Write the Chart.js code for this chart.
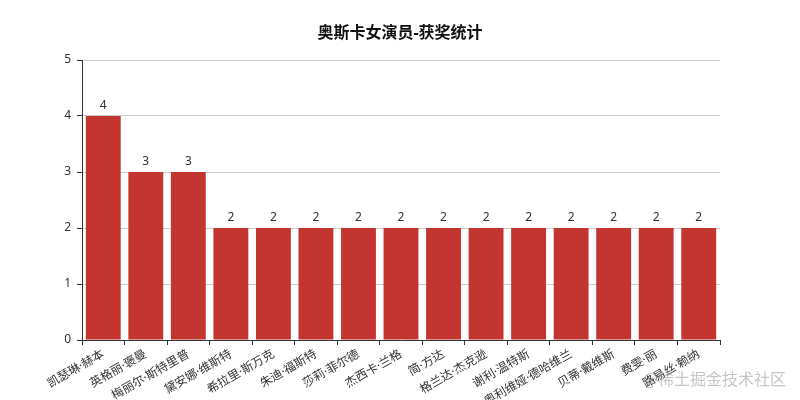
<!DOCTYPE html>
<html>
<head>
<meta charset="utf-8">
<script src="https://cdn.jsdelivr.net/npm/chart.js@4.4.1/dist/chart.umd.min.js"></script>
<style>
  html, body { margin: 0; padding: 0; background: #fff; }
  #wrap { position: relative; width: 800px; height: 400px; }
  #mark { position: absolute; right: 14px; bottom: 10px; font: 16px "Noto Sans CJK SC", sans-serif; color: rgba(160,160,160,0.6); }
</style>
</head>
<body>
<div id="wrap">
  <canvas id="chart" width="800" height="400"></canvas>
  <div id="mark">@稀土掘金技术社区</div>
</div>
<script>
// actresses and number of Oscar wins
const actresses = [
  "凯瑟琳·赫本", "英格丽·褒曼", "梅丽尔·斯特里普", "黛安娜·维斯特", "希拉里·斯万克",
  "朱迪·福斯特", "莎莉·菲尔德", "杰西卡·兰格", "简·方达", "格兰达·杰克逊",
  "谢利·温特斯", "奥利维娅·德哈维兰", "贝蒂·戴维斯", "费雯·丽", "路易丝·赖纳"
];
const awards = [4, 3, 3, 2, 2, 2, 2, 2, 2, 2, 2, 2, 2, 2, 2];
const yTicks = [0, 1, 2, 3, 4, 5];
const titleText = "奥斯卡女演员-获奖统计";

// Noto Sans first so the middle dot stays narrow, CJK falls back
const font = "'Noto Sans', 'Noto Sans CJK SC', sans-serif";

// value above each bar + title centred on the whole canvas
const extras = {
  id: "extras",
  afterDatasetsDraw(chart) {
    const ctx = chart.ctx;
    const meta = chart.getDatasetMeta(0);
    ctx.save();
    ctx.fillStyle = "#333";
    ctx.font = "12px " + font;
    ctx.textAlign = "center";
    ctx.textBaseline = "bottom";
    meta.data.forEach((bar, i) => {
      ctx.fillText(awards[i], bar.x, bar.y - 4);
    });
    ctx.fillStyle = "#111";
    ctx.font = "bold 16px " + font;
    ctx.textBaseline = "middle";
    ctx.fillText(titleText, chart.width / 2, 33);
    ctx.restore();
  }
};

const chart = new Chart(document.getElementById("chart"), {
  type: "bar",
  data: {
    labels: actresses,
    datasets: [{
      data: awards,
      backgroundColor: "#c23531",
      barPercentage: 0.82,
      categoryPercentage: 1.0
    }]
  },
  options: {
    responsive: false,
    animation: false,
    layout: { padding: { left: 0, right: 80, top: 60, bottom: 0 } },
    plugins: {
      legend: { display: false },
      tooltip: { enabled: false },
      title: { display: false }
    },
    scales: {
      x: {
        offset: true,
        grid: { display: true, offset: true, drawOnChartArea: false, color: "#333", tickLength: 5 },
        border: { color: "#333" },
        afterFit(axis) { axis.height = 60; },
        ticks: {
          color: "#333",
          font: { family: font, size: 12 },
          minRotation: 30,
          maxRotation: 30,
          autoSkip: false,
          padding: 2
        }
      },
      y: {
        min: 0,
        max: 5,
        afterBuildTicks(axis) { axis.ticks = yTicks.map(v => ({ value: v })); },
        afterFit(axis) { axis.width = 82; },
        grid: { color: "#ccc", tickLength: 5, tickColor: "#333" },
        border: { color: "#333" },
        ticks: { color: "#333", font: { family: font, size: 12 }, padding: 6 }
      }
    }
  },
  plugins: [extras]
});
</script>
</body>
</html>
